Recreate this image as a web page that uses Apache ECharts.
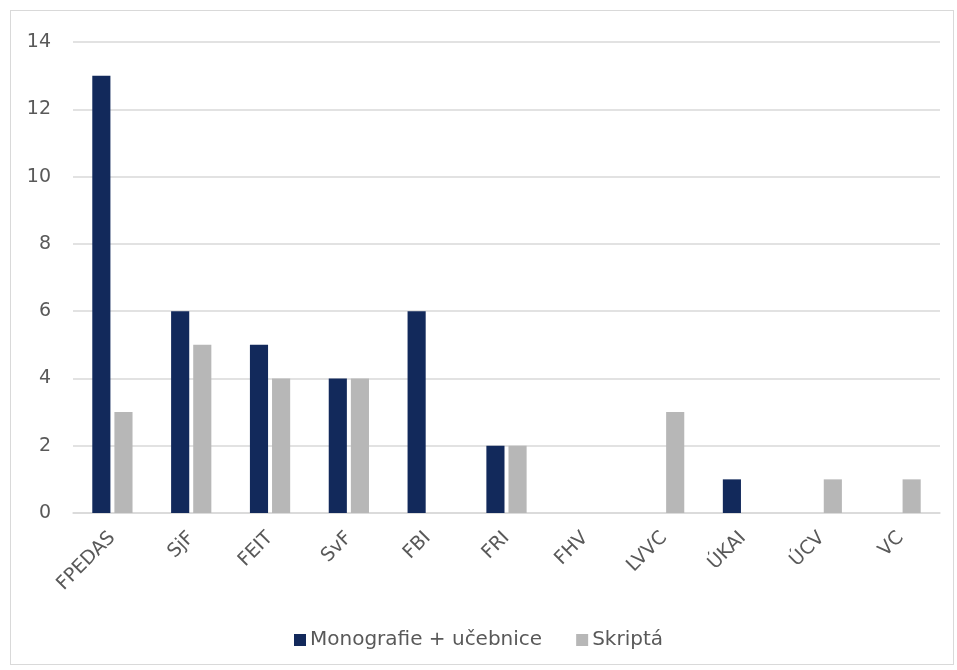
<!DOCTYPE html>
<html><head><meta charset="utf-8">
<script src="https://cdn.jsdelivr.net/npm/echarts@6/dist/echarts.min.js"></script>
<style>html,body{margin:0;padding:0;background:#fff}#frame{position:absolute;left:10px;top:10px;width:944px;height:655px;border:1px solid #d9d9d9;box-sizing:border-box}#c{width:957px;height:670px}</style>
</head><body><div id="frame"></div><div id="c"></div>
<script>
const categories = ['FPEDAS','SjF','FEIT','SvF','FBI','FRI','FHV','LVVC','ÚKAI','ÚCV','VC'];
const monografie = [13,6,5,4,6,2,0,0,1,0,0];
const skripta = [3,5,4,4,0,2,0,3,0,1,1];
const yTicks = [0,2,4,6,8,10,12,14];
const font = 'DejaVu Sans';
const chart = echarts.init(document.getElementById('c'));
chart.setOption({
  animation:false,
  grid:{left:73,right:17,top:42,bottom:157,containLabel:false},
  legend:{bottom:15,left:'center',itemWidth:12,itemHeight:12,itemGap:34,icon:'rect',
    textStyle:{color:'#595959',fontSize:20,fontFamily:font,padding:[0,0,0,-1]},
    data:['Monografie + učebnice','Skriptá']},
  xAxis:{type:'category',data:categories,
    axisLine:{lineStyle:{color:'#d9d9d9',width:1.5}},axisTick:{show:false},
    axisLabel:{rotate:45,color:'#595959',fontSize:19,fontFamily:font,margin:22,interval:0}},
  yAxis:{type:'value',min:yTicks[0],max:yTicks[yTicks.length-1],interval:2,
    axisLine:{show:false},axisTick:{show:false},
    splitLine:{lineStyle:{color:'#d9d9d9',width:1.5}},
    axisLabel:{color:'#595959',fontSize:19,fontFamily:font,margin:22}},
  series:[
    {name:'Monografie + učebnice',type:'bar',data:monografie,barWidth:'23%',barGap:'22%',
      itemStyle:{color:'#12295b',borderWidth:0}},
    {name:'Skriptá',type:'bar',data:skripta,barWidth:'23%',
      itemStyle:{color:'#b7b7b7',borderWidth:0}}
  ]
});
</script></body></html>
